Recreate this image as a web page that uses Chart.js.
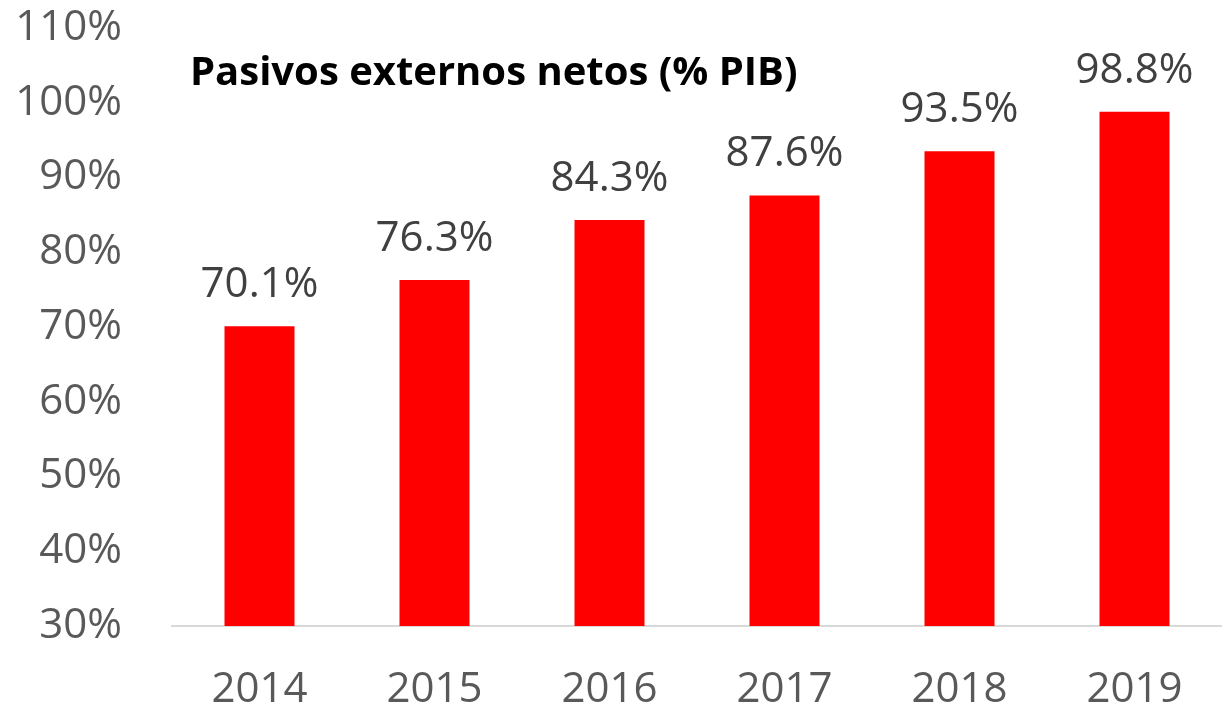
<!DOCTYPE html>
<html>
<head>
<meta charset="utf-8">
<script src="https://cdn.jsdelivr.net/npm/chart.js@4/dist/chart.umd.min.js"></script>
<style>
  html, body { margin: 0; padding: 0; background: #fff; overflow: hidden; }
  canvas { display: block; }
</style>
</head>
<body>
<canvas id="grafico" width="1222" height="712"></canvas>
<script>
// datos
const anios = ['2014', '2015', '2016', '2017', '2018', '2019'];
const pasivos = [70.1, 76.3, 84.3, 87.6, 93.5, 98.8];
const titulo = 'Pasivos externos netos (% PIB)';

const fuente = 'Open Sans';

// etiquetas encima de cada barra
const etiquetasValor = {
    id: 'etiquetasValor',
    afterDatasetsDraw(chart) {
        const ctx = chart.ctx;
        const meta = chart.getDatasetMeta(0);
        ctx.save();
        ctx.font = '42px "' + fuente + '"';
        ctx.fillStyle = '#404040';
        ctx.textAlign = 'center';
        ctx.textBaseline = 'alphabetic';
        meta.data.forEach((bar, i) => {
            ctx.fillText(pasivos[i].toFixed(1) + '%', bar.x, bar.y - 29);
        });
        ctx.restore();
    }
};

// titulo dentro del area del grafico
const tituloInterno = {
    id: 'tituloInterno',
    afterDraw(chart) {
        const ctx = chart.ctx;
        ctx.save();
        ctx.font = 'bold 40px "' + fuente + '"';
        ctx.fillStyle = '#000';
        ctx.textAlign = 'left';
        ctx.textBaseline = 'alphabetic';
        ctx.fillText(titulo, chart.chartArea.left + 18, 85);
        ctx.restore();
    }
};

function dibujar() {
    const ctx = document.getElementById('grafico').getContext('2d');
    new Chart(ctx, {
        type: 'bar',
        data: {
            labels: anios,
            datasets: [{
                data: pasivos,
                backgroundColor: '#ff0000',
                barPercentage: 0.4,
                categoryPercentage: 1
            }]
        },
        options: {
            responsive: false,
            animation: false,
            layout: { padding: { top: 28, left: 0, right: 0, bottom: 0 } },
            scales: {
                x: {
                    grid: { display: false },
                    border: { display: true, color: '#d9d9d9', width: 2 },
                    ticks: { color: '#595959', font: { family: fuente, size: 42 }, padding: 31, maxRotation: 0 },
                    afterFit(scale) {
                        scale.height = 86;
                        scale.paddingLeft = 0;
                        scale.paddingRight = 0;
                    }
                },
                y: {
                    min: 30,
                    max: 110,
                    grid: { display: false },
                    border: { display: false },
                    ticks: {
                        stepSize: 10,
                        color: '#595959',
                        font: { family: fuente, size: 42 },
                        padding: 42,
                        callback: v => v + '%'
                    },
                    afterFit(scale) {
                        scale.width = 172;
                        scale.paddingTop = 0;
                        scale.paddingBottom = 0;
                    }
                }
            },
            plugins: {
                legend: { display: false },
                tooltip: { enabled: false }
            }
        },
        plugins: [etiquetasValor, tituloInterno]
    });
}

document.fonts.load('42px "' + fuente + '"')
    .then(() => document.fonts.load('bold 40px "' + fuente + '"'))
    .then(dibujar, dibujar);
</script>
</body>
</html>
